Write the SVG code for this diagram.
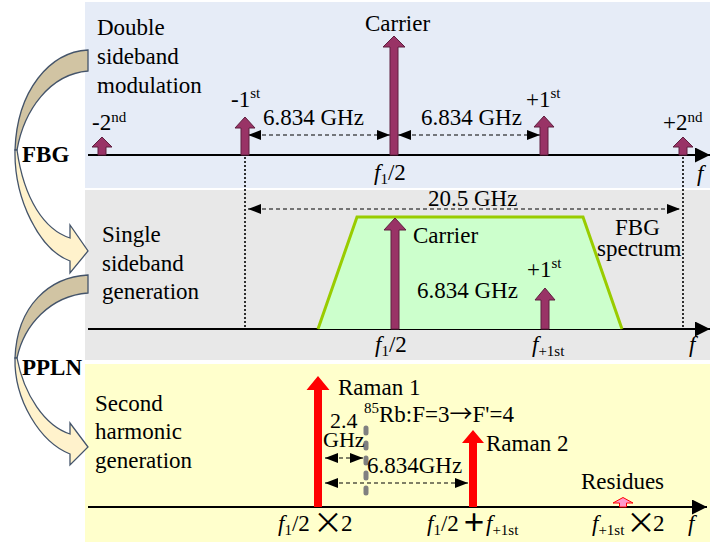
<svg xmlns="http://www.w3.org/2000/svg" width="710" height="542" viewBox="0 0 710 542">
<style>
text{font-family:"Liberation Serif","Times New Roman",serif;font-size:23px;fill:#000}
.b{font-weight:bold}
.i{font-style:italic}
.sup{font-size:15px}
.sub{font-size:15px}
.cjk{font-family:"Noto Sans CJK SC",sans-serif}
.x{font-family:"Noto Sans CJK SC",sans-serif;font-size:30px}
.axis{stroke:#000;stroke-width:2;fill:none}
.dash{stroke:#000;stroke-width:1.2;stroke-dasharray:4 3;fill:none}
.dot{stroke:#000;stroke-width:1.6;stroke-dasharray:2 2;fill:none}
.pa{fill:#993366;stroke:#5E1F3F;stroke-width:1}
.ra{fill:#FF0000}
.back{fill:#D1C4A3;stroke:#44546A;stroke-width:1.3}
.front{fill:#FFF2CC;stroke:#44546A;stroke-width:1.3}
</style>
<defs>
<marker id="ah" markerUnits="userSpaceOnUse" markerWidth="14" markerHeight="12" refX="13" refY="5" orient="auto-start-reverse">
<path d="M0,0 L13,5 L0,10 Z" fill="#000"/>
</marker>
<marker id="axh" markerUnits="userSpaceOnUse" markerWidth="16" markerHeight="16" refX="15" refY="7.5" orient="auto">
<path d="M0,0 L15,7.5 L0,15 Z" fill="#000"/>
</marker>
</defs>
<rect width="710" height="542" fill="#FFFFFF"/>
<g id="panels">
<rect x="85" y="2" width="625" height="186" fill="#E6ECF7"/>
<rect x="85" y="190" width="625" height="170" fill="#E8E8E8"/>
<rect x="85" y="364" width="625" height="178" fill="#FFFFCC"/>
</g>
<g id="curved-arrow-fbg">
<path class="back" d="M88,50 C50,52 17,90 15,150 L17,150 C24,110 50,74 88,71 Z"/>
<path class="front" d="M15,150 C14,200 40,250 70,261 L70,273 L88,251 L70,225 L70,238 C45,230 24,200 17,150 Z"/>
<text class="b" x="22" y="162">FBG</text>
</g>
<g id="curved-arrow-ppln">
<path class="back" d="M88,275 C50,277 17,305 15,358 L17,358 C24,325 50,296 88,293 Z"/>
<path class="front" d="M15,358 C14,400 40,442 70,454 L70,465 L88,447 L70,423 L70,434 C45,426 24,395 17,358 Z"/>
<text class="b" x="22" y="375">PPLN</text>
</g>
<g id="connectors">
<line class="axis" x1="88" y1="155" x2="710" y2="155" marker-end="url(#axh)"/>
<line class="axis" x1="88" y1="329" x2="710" y2="329" marker-end="url(#axh)"/>
<line class="axis" x1="88" y1="507" x2="707" y2="507" marker-end="url(#axh)"/>
<line class="dot" x1="245" y1="157" x2="245" y2="328"/>
<line class="dot" x1="683" y1="157" x2="683" y2="328"/>
<line class="dash" x1="248" y1="135" x2="390" y2="135" marker-start="url(#ah)" marker-end="url(#ah)"/>
<line class="dash" x1="398" y1="135" x2="540" y2="135" marker-start="url(#ah)" marker-end="url(#ah)"/>
<line class="dash" x1="248" y1="209" x2="680" y2="209" marker-start="url(#ah)" marker-end="url(#ah)"/>
<line class="dash" x1="398" y1="309" x2="542" y2="309" marker-start="url(#ah)" marker-end="url(#ah)"/>
<line class="dash" x1="325" y1="458" x2="363" y2="458" marker-start="url(#ah)" marker-end="url(#ah)"/>
<line class="dash" x1="325" y1="483" x2="468" y2="483" marker-start="url(#ah)" marker-end="url(#ah)"/>
<line x1="366" y1="428" x2="366" y2="502" stroke="#808080" stroke-width="5" stroke-linecap="round" stroke-dasharray="5 10"/>
</g>
<g id="fbg-spectrum">
<path d="M318,329 L357,217 L583,217 L622,329" fill="#CCFFCC" stroke="#99CC00" stroke-width="3" stroke-linejoin="miter"/>
<text x="615" y="235">FBG</text>
<text x="597" y="256">spectrum</text>
</g>
<g id="top-panel">
<text x="97" y="35">Double</text>
<text x="97" y="64">sideband</text>
<text x="97" y="93">modulation</text>
<path class="pa" d="M98,155 L98,147 L92,147 L102,137 L112,147 L106,147 L106,155 Z"/>
<path class="pa" d="M241,155 L241,128 L235,128 L245,117 L255,128 L249,128 L249,155 Z"/>
<path class="pa" d="M390,155 L390,47 L383,47 L394,36 L405,47 L398,47 L398,155 Z"/>
<path class="pa" d="M540,155 L540,127 L534,127 L544,116 L554,127 L548,127 L548,155 Z"/>
<path class="pa" d="M679,155 L679,147 L673,147 L683,137 L693,147 L687,147 L687,155 Z"/>
<text x="92" y="130">-2<tspan class="sup" dy="-8">nd</tspan></text>
<text x="231" y="107">-1<tspan class="sup" dy="-9">st</tspan></text>
<text x="365" y="31">Carrier</text>
<text x="526" y="107">+1<tspan class="sup" dy="-9">st</tspan></text>
<text x="663" y="130">+2<tspan class="sup" dy="-8">nd</tspan></text>
<text x="263" y="125">6.834 GHz</text>
<text x="421" y="125">6.834 GHz</text>
<text x="374" y="180"><tspan class="i">f</tspan><tspan class="sub" dy="4">1</tspan><tspan dy="-4">/2</tspan></text>
<text class="i" x="697" y="181">f</text>
</g>
<g id="middle-panel">
<text x="102" y="242">Single</text>
<text x="102" y="271">sideband</text>
<text x="102" y="299">generation</text>
<text x="428" y="206">20.5 GHz</text>
<path class="pa" d="M391,329 L391,230 L384,230 L395,218 L406,230 L399,230 L399,329 Z"/>
<path class="pa" d="M541,329 L541,300 L535,300 L545,288 L555,300 L549,300 L549,329 Z"/>
<text x="413" y="243">Carrier</text>
<text x="527" y="277">+1<tspan class="sup" dy="-9">st</tspan></text>
<text x="417" y="298">6.834 GHz</text>
<text x="375" y="352"><tspan class="i">f</tspan><tspan class="sub" dy="4">1</tspan><tspan dy="-4">/2</tspan></text>
<text x="532" y="352"><tspan class="i">f</tspan><tspan class="sub" dy="4">+1st</tspan></text>
<text class="i" x="689" y="352">f</text>
</g>
<g id="bottom-panel">
<text x="95" y="411">Second</text>
<text x="95" y="439">harmonic</text>
<text x="95" y="468">generation</text>
<path class="ra" d="M314,507 L314,390 L306.5,390 L318,376 L329.5,390 L322,390 L322,507 Z"/>
<path class="ra" d="M469,507 L469,443 L462,443 L473,430 L484,443 L477,443 L477,507 Z"/>
<path d="M619.5,507 L619.5,503 L613,503 L623,497.5 L633,503 L626.5,503 L626.5,507 Z" fill="#FF99CC" stroke="#FF0000" stroke-width="1"/>
<text x="338" y="395">Raman 1</text>
<text x="486" y="451">Raman 2</text>
<text x="364" y="413"><tspan class="sup">85</tspan><tspan y="422">Rb:F=3</tspan><tspan class="cjk">→</tspan><tspan>F'=4</tspan></text>
<text x="330" y="428" style="font-size:22px">2.4</text>
<text x="323" y="447" style="font-size:22px">GHz</text>
<text x="367" y="473">6.834GHz</text>
<text x="581" y="489">Residues</text>
<text x="278" y="531"><tspan class="i">f</tspan><tspan class="sub" y="535">1</tspan><tspan y="531">/2</tspan><tspan class="x" x="313" y="533">×</tspan><tspan x="341" y="531">2</tspan></text>
<text x="427" y="531"><tspan class="i">f</tspan><tspan class="sub" y="535">1</tspan><tspan y="531">/2</tspan><tspan class="cjk" x="462" y="531" style="font-size:24px;font-weight:bold">＋</tspan><tspan class="i" x="486" y="531">f</tspan><tspan class="sub" y="535">+1st</tspan></text>
<text x="592" y="531"><tspan class="i">f</tspan><tspan class="sub" y="535">+1st</tspan><tspan class="x" x="626" y="533">×</tspan><tspan x="653" y="531">2</tspan></text>
<text class="i" x="688" y="531">f</text>
</g>
</svg>
